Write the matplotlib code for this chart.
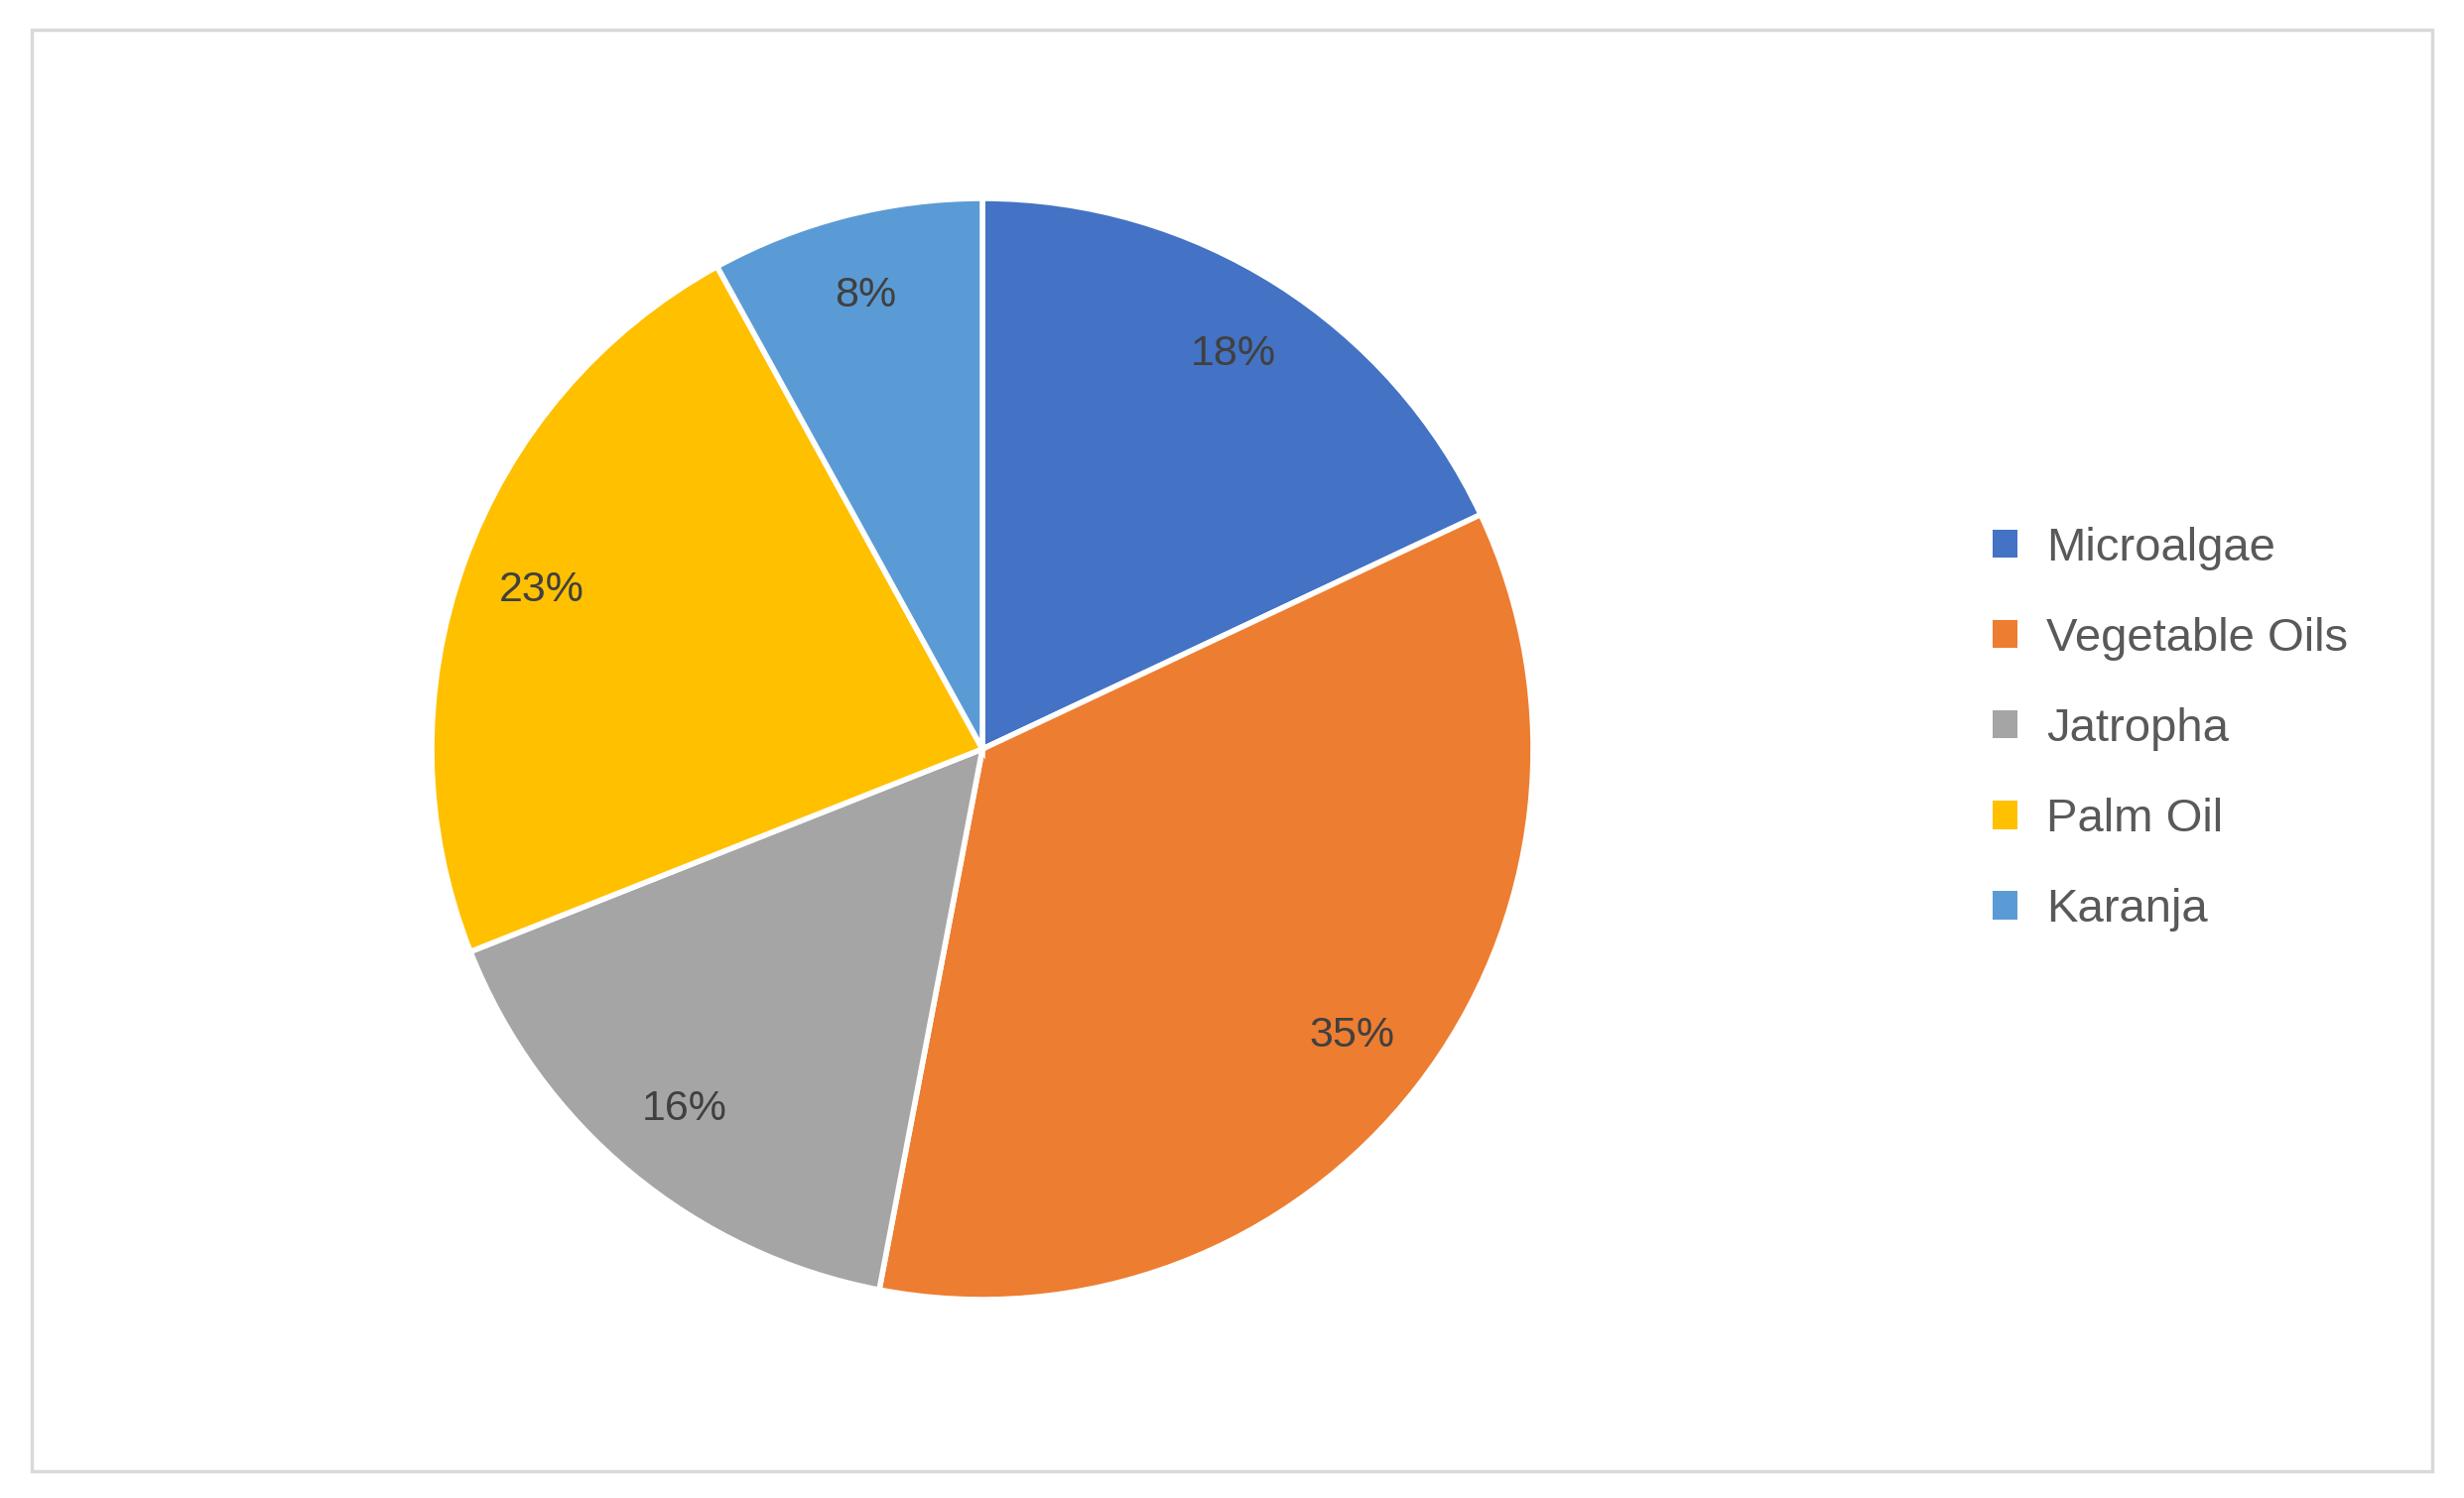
import matplotlib.pyplot as plt
from matplotlib.patches import Rectangle, Patch

labels = ["Microalgae", "Vegetable Oils", "Jatropha", "Palm Oil", "Karanja"]
values = [18, 35, 16, 23, 8]
colors = ["#4472C4", "#ED7D31", "#A5A5A5", "#FFC000", "#5B9BD5"]

W, H = 2483, 1510
fig = plt.figure(figsize=(W / 100, H / 100), dpi=100)
plt.rcParams['font.family'] = ['Liberation Sans', 'DejaVu Sans']

# outer chart border
fig.patches.append(Rectangle((32 / W, 27 / H), (2451 - 32) / W, (1480 - 27) / H,
                             transform=fig.transFigure, fill=False,
                             edgecolor="#D9D9D9", linewidth=2.5))

cx, cy, r = 990, 755, 555
ax = fig.add_axes([(cx - r) / W, (H - cy - r) / H, 2 * r / W, 2 * r / H])
wedges, texts, autotexts = ax.pie(
    values, colors=colors, startangle=90, counterclock=False,
    autopct="%d%%", pctdistance=0.85, radius=1,
    wedgeprops=dict(edgecolor="white", linewidth=4),
    textprops=dict(fontsize=31, color="#404040"))
ax.set_xlim(-1, 1)
ax.set_ylim(-1, 1)
ax.set_aspect("equal")
ax.axis("off")

handles = [Patch(facecolor=c, label=l) for c, l in zip(colors, labels)]
fig.legend(handles=handles, loc="upper left", bbox_to_anchor=(1965 / W, 1 - 488 / H),
           frameon=False, fontsize=34, labelcolor="#595959",
           handlelength=0.55, handleheight=0.55, handletextpad=0.6,
           labelspacing=1.0)

fig.savefig("out.png", dpi=100)
